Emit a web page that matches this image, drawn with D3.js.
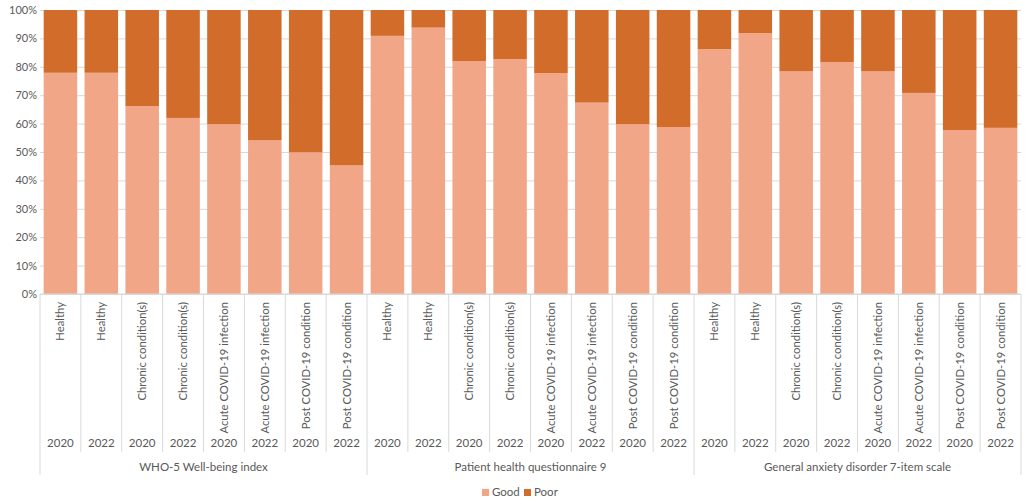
<!DOCTYPE html>
<html>
<head>
<meta charset="utf-8">
<script src="https://cdn.jsdelivr.net/npm/d3@7"></script>
<style>
  body { margin: 0; background: #ffffff; }
  text { font-family: Lato, "Liberation Sans", sans-serif; fill: #595959; }
</style>
</head>
<body>
<svg id="chart"></svg>
<script>
// Chart size and margins
const width = 1026, height = 502;
const margin = {top: 10, bottom: 208, left: 40, right: 5};

// Data (percent of respondents)
const groups = ["WHO-5 Well-being index", "Patient health questionnaire 9", "General anxiety disorder 7-item scale"];
const conditions = ["Healthy", "Healthy", "Chronic condition(s)", "Chronic condition(s)",
                    "Acute COVID-19 infection", "Acute COVID-19 infection",
                    "Post COVID-19 condition", "Post COVID-19 condition"];
const years = ["2020", "2022", "2020", "2022", "2020", "2022", "2020", "2022"];
const good = [77.9, 77.9, 66.2, 62.0, 59.8, 54.1, 49.9, 45.3,
              90.9, 93.8, 82.0, 82.7, 77.8, 67.4, 59.8, 58.8,
              86.2, 91.9, 78.4, 81.7, 78.4, 70.8, 57.7, 58.5];
const poor = [22.1, 22.1, 33.8, 38.0, 40.2, 45.9, 50.1, 54.7,
              9.1, 6.2, 18.0, 17.3, 22.2, 32.6, 40.2, 41.2,
              13.8, 8.1, 21.6, 18.3, 21.6, 29.2, 42.3, 41.5];
const yTicks = [0, 0.1, 0.2, 0.3, 0.4, 0.5, 0.6, 0.7, 0.8, 0.9, 1];

const colors = {Good: "#f1a688", Poor: "#d16c2b"};

// one row per bar
const rows = [];
groups.forEach((g, gi) => {
    conditions.forEach((c, ci) => {
        const i = gi * conditions.length + ci;
        rows.push({id: i, group: g, condition: c, year: years[ci], Good: good[i], Poor: poor[i]});
    });
});

const svg = d3.select("#chart")
    .attr("width", width)
    .attr("height", height);

const plotBottom = height - margin.bottom;

const xScale = d3.scaleBand()
    .domain(rows.map(d => d.id))
    .range([margin.left, width - margin.right])
    .paddingInner(0.18)
    .paddingOuter(0.09);

const yScale = d3.scaleLinear()
    .domain([0, 1])
    .range([plotBottom, margin.top]);

// Gridlines and y axis
const yAxis = svg.append("g")
    .attr("transform", `translate(${margin.left},0)`)
    .call(d3.axisLeft(yScale)
        .tickValues(yTicks)
        .tickFormat(d3.format(".0%"))
        .tickSize(-(width - margin.left - margin.right))
        .tickPadding(3));
yAxis.select(".domain").remove();
yAxis.selectAll(".tick line").attr("stroke", "#d9d9d9");
yAxis.selectAll(".tick text").style("font-size", "11px").attr("fill", "#595959");

// Stacked bars
const stack = d3.stack()
    .keys(["Good", "Poor"])
    .offset(d3.stackOffsetExpand);
const series = stack(rows);

svg.append("g")
    .selectAll("g")
    .data(series)
    .join("g")
    .attr("fill", d => colors[d.key])
    .selectAll("rect")
    .data(d => d)
    .join("rect")
    .attr("x", d => xScale(d.data.id))
    .attr("y", d => yScale(d[1]))
    .attr("width", xScale.bandwidth())
    .attr("height", d => yScale(d[0]) - yScale(d[1]));

// Multi-level category axis
const step = xScale.step();
const x0 = margin.left, x1 = width - margin.right;
const yearRowEnd = plotBottom + 158;
const groupRowEnd = plotBottom + 181;
const catAxis = svg.append("g");

catAxis.append("line")
    .attr("x1", x0).attr("x2", x1)
    .attr("y1", plotBottom).attr("y2", plotBottom)
    .attr("stroke", "#d9d9d9");

// separators between bars
rows.forEach((d, i) => {
    const xs = xScale(d.id) - xScale.paddingInner() * step / 2;
    const isGroupStart = i % conditions.length === 0;
    catAxis.append("line")
        .attr("x1", xs).attr("x2", xs)
        .attr("y1", plotBottom)
        .attr("y2", isGroupStart ? groupRowEnd : yearRowEnd)
        .attr("stroke", "#d9d9d9");
});
catAxis.append("line")
    .attr("x1", x1).attr("x2", x1)
    .attr("y1", plotBottom).attr("y2", groupRowEnd)
    .attr("stroke", "#d9d9d9");

// condition labels (rotated)
catAxis.selectAll(".cond")
    .data(rows)
    .join("text")
    .attr("class", "cond")
    .attr("transform", d => `translate(${xScale(d.id) + xScale.bandwidth() / 2 + 4},${plotBottom + 8}) rotate(-90)`)
    .attr("text-anchor", "end")
    .style("font-size", "11.3px")
    .text(d => d.condition);

// year labels
catAxis.selectAll(".year")
    .data(rows)
    .join("text")
    .attr("class", "year")
    .attr("x", d => xScale(d.id) + xScale.bandwidth() / 2)
    .attr("y", plotBottom + 153)
    .attr("text-anchor", "middle")
    .style("font-size", "11.5px")
    .text(d => d.year);

// group labels
catAxis.selectAll(".grp")
    .data(groups)
    .join("text")
    .attr("class", "grp")
    .attr("x", (g, gi) => x0 + step * conditions.length * (gi + 0.5))
    .attr("y", plotBottom + 177)
    .attr("text-anchor", "middle")
    .style("font-size", "11.5px")
    .text(d => d);

// Legend
const legend = svg.append("g")
    .attr("transform", `translate(482, ${height - 9})`);
["Good", "Poor"].forEach((k, i) => {
    const lx = i * 42;
    legend.append("rect")
        .attr("x", lx)
        .attr("y", -4)
        .attr("width", 7)
        .attr("height", 7)
        .attr("fill", colors[k]);
    legend.append("text")
        .attr("x", lx + 10)
        .attr("y", 0)
        .attr("dominant-baseline", "middle")
        .style("font-size", "11.5px")
        .text(k);
});
</script>
</body>
</html>
